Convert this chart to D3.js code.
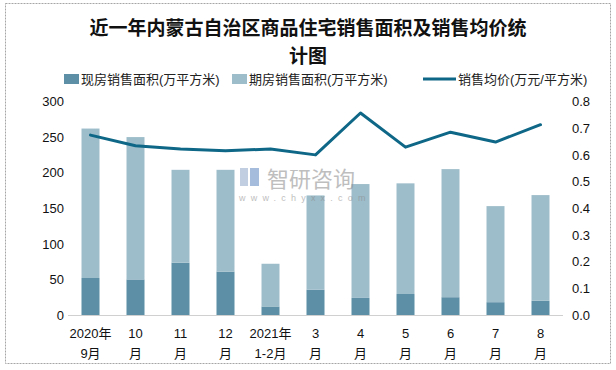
<!DOCTYPE html>
<html>
<head>
<meta charset="utf-8">
<script src="https://cdn.jsdelivr.net/npm/d3@7/dist/d3.min.js"></script>
<style>
  body { margin: 0; background: #fff; }
  text { font-family: "Liberation Sans", "Noto Sans CJK SC", sans-serif; }
</style>
</head>
<body>
<div id="chart"></div>
<script>
const width = 616;
const height = 370;

// data
const months = ['2020年\n9月', '10\n月', '11\n月', '12\n月', '2021年\n1-2月', '3\n月', '4\n月', '5\n月', '6\n月', '7\n月', '8\n月'];
const current = [52, 50, 73.5, 61, 12, 35.5, 24, 29.5, 25, 18, 20];
const future = [210, 200, 130.5, 143, 60, 132.5, 160, 155.5, 180, 135, 148.5];
const price = [0.674, 0.634, 0.622, 0.615, 0.622, 0.600, 0.757, 0.629, 0.685, 0.648, 0.713];
const leftTicks = [0, 50, 100, 150, 200, 250, 300];
const rightTicks = [0, 0.1, 0.2, 0.3, 0.4, 0.5, 0.6, 0.7, 0.8];

const colCurrent = '#5d8fa6';
const colFuture = '#9dbdca';
const colLine = '#0e6786';

const svg = d3.select('#chart').append('svg')
  .attr('width', width)
  .attr('height', height);

// outer frame
svg.append('rect')
  .attr('x', 5.5).attr('y', 3.5)
  .attr('width', 605).attr('height', 360)
  .attr('fill', 'none')
  .attr('stroke', '#a6a6a6')
  .attr('stroke-dasharray', '2,1');

// title, two lines
const titleLines = ['近一年内蒙古自治区商品住宅销售面积及销售均价统', '计图'];
svg.append('g')
  .selectAll('text')
  .data(titleLines)
  .join('text')
    .attr('x', 308)
    .attr('y', (d, i) => 35 + i * 28)
    .attr('text-anchor', 'middle')
    .style('font-family', '"Noto Sans CJK SC", sans-serif')
    .style('font-weight', 'bold')
    .style('font-size', '19px')
    .attr('fill', '#111')
    .text(d => d);

const x = d3.scaleBand()
  .domain(months)
  .range([68, 563])
  .paddingInner(0.6)
  .paddingOuter(0.3);

const yL = d3.scaleLinear().domain([0, 300]).range([315, 101.5]);
const yR = d3.scaleLinear().domain([0, 0.8]).range([315, 101.5]);

// left axis labels
svg.append('g')
  .attr('transform', 'translate(64,0)')
  .call(d3.axisLeft(yL).tickValues(leftTicks).tickSize(0).tickPadding(0))
  .call(g => g.select('.domain').remove())
  .selectAll('text')
    .style('font-size', '13px')
    .style('font-family', '"Liberation Sans", sans-serif')
    .attr('fill', '#111');

// right axis labels
svg.append('g')
  .attr('transform', 'translate(572,0)')
  .call(d3.axisRight(yR).tickValues(rightTicks).tickSize(0).tickPadding(0).tickFormat(d3.format('.1f')))
  .call(g => g.select('.domain').remove())
  .selectAll('text')
    .style('font-size', '13px')
    .style('font-family', '"Liberation Sans", sans-serif')
    .attr('fill', '#111');

// stacked bars
const rows = months.map((m, i) => ({month: m, current: current[i], future: future[i]}));
const stack = d3.stack().keys(['current', 'future'])(rows);
const colors = {current: colCurrent, future: colFuture};

svg.append('g')
  .selectAll('g')
  .data(stack)
  .join('g')
    .attr('fill', s => colors[s.key])
  .selectAll('rect')
  .data(s => s)
  .join('rect')
    .attr('x', d => x(d.data.month))
    .attr('width', x.bandwidth())
    .attr('y', d => yL(d[1]))
    .attr('height', d => yL(d[0]) - yL(d[1]));

// baseline
svg.append('line')
  .attr('x1', 68).attr('x2', 563)
  .attr('y1', 315.5).attr('y2', 315.5)
  .attr('stroke', '#d0d0d0');

// watermark
const wm = svg.append('g').attr('opacity', 0.55);
wm.append('rect').attr('x', 240).attr('y', 168).attr('width', 8).attr('height', 18).attr('fill', '#8fa6c8');
wm.append('rect').attr('x', 250).attr('y', 168).attr('width', 9).attr('height', 18).attr('fill', '#5f86c0');
wm.append('text')
  .attr('x', 267).attr('y', 187)
  .style('font-family', '"Noto Sans CJK SC", sans-serif')
  .style('font-size', '22px')
  .attr('fill', '#8a8a8a')
  .text('智研咨询');
wm.append('text')
  .attr('x', 239).attr('y', 201)
  .style('font-size', '9px')
  .style('letter-spacing', '5.2px')
  .attr('fill', '#8a8a8a')
  .text('www.chyxx.com');

// price line
const line = d3.line()
  .x((d, i) => x(months[i]) + x.bandwidth() / 2)
  .y(d => yR(d));

svg.append('path')
  .datum(price)
  .attr('d', line)
  .attr('fill', 'none')
  .attr('stroke', colLine)
  .attr('stroke-width', 3)
  .attr('stroke-linejoin', 'round')
  .attr('stroke-linecap', 'round');

// x labels
const xl = svg.append('g')
  .selectAll('text')
  .data(months)
  .join('text')
    .attr('text-anchor', 'middle')
    .style('font-size', '13px')
    .style('font-family', '"Liberation Sans", "Noto Sans CJK SC", sans-serif')
    .attr('fill', '#111');
xl.each(function (m) {
  const cx = x(m) + x.bandwidth() / 2;
  m.split('\n').forEach((t, j) => {
    d3.select(this).append('tspan')
      .attr('x', cx)
      .attr('y', 338 + j * 20)
      .text(t);
  });
});

// legend
const legend = [
  {label: '现房销售面积(万平方米)', color: colCurrent, type: 'rect', x: 64},
  {label: '期房销售面积(万平方米)', color: colFuture, type: 'rect', x: 232},
  {label: '销售均价(万元/平方米)', color: colLine, type: 'line', x: 423}
];
const lg = svg.append('g')
  .selectAll('g')
  .data(legend)
  .join('g')
    .attr('transform', d => `translate(${d.x},79)`);
lg.filter(d => d.type === 'rect').append('rect')
  .attr('x', 0).attr('y', -5)
  .attr('width', 15).attr('height', 10)
  .attr('fill', d => d.color);
lg.filter(d => d.type === 'line').append('line')
  .attr('x1', 0).attr('x2', 33)
  .attr('y1', 0).attr('y2', 0)
  .attr('stroke', d => d.color)
  .attr('stroke-width', 3);
lg.append('text')
  .attr('x', d => d.type === 'line' ? 35 : 17)
  .attr('y', 5)
  .style('font-size', '13px')
  .style('font-family', '"Liberation Sans", "Noto Sans CJK SC", sans-serif')
  .attr('fill', '#222')
  .text(d => d.label);
</script>
</body>
</html>
